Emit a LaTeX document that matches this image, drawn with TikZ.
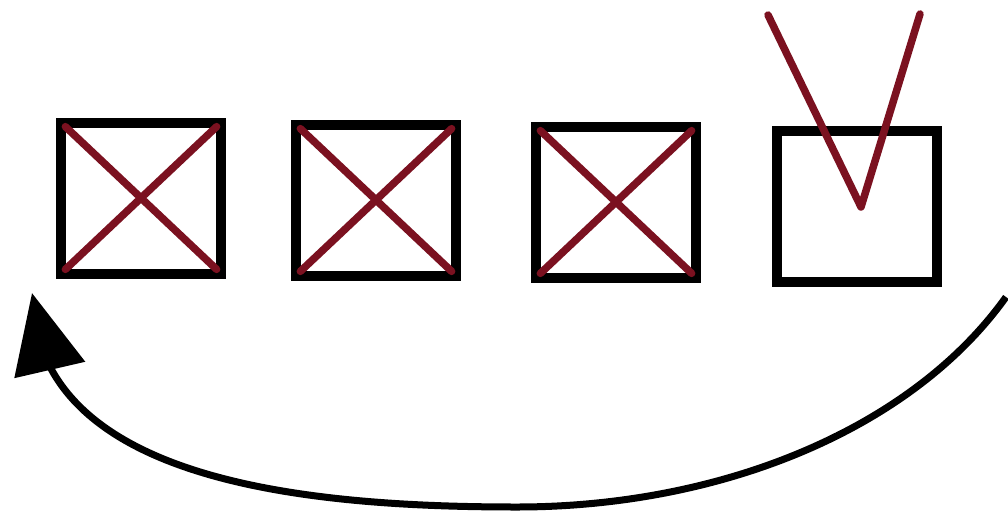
\documentclass[tikz,border=0pt]{standalone}
\usetikzlibrary{arrows.meta, bending, positioning}
\definecolor{crossred}{HTML}{7B1120}

\begin{document}
\begin{tikzpicture}[x=1pt, y=-1pt, >={Triangle[length=79pt, width=71pt]}]
  \tikzset{
    cell/.style={draw, line width=10pt, minimum width=160pt, minimum height=151pt,
      inner sep=0pt, outer sep=0pt},
    redline/.style={crossred, line width=7.5pt, line cap=round, line join=round},
  }
  \useasboundingbox (0,0) rectangle (1008,514);

  % Felder
  \node[cell] (c1) at (141,198) {};
  \node[cell] (c2) at (376,200) {};
  \node[cell] (c3) at (616,202) {};
  \node[cell] (c4) at (857,206) {};

  % Kreuze
  \foreach \c in {c1,c2,c3} {
    \draw[redline, shorten <=6pt, shorten >=6pt] (\c.north west) -- (\c.south east);
    \draw[redline, shorten <=6pt, shorten >=6pt] (\c.south west) -- (\c.north east);
  }

  % Haken
  \coordinate (vl) at (768,15);
  \coordinate (vr) at (920,14);
  \draw[redline] (vl) -- ([shift={(4,1)}]c4.center) -- (vr);

  % Pfeil zurueck
  \coordinate (start) at (1006,297);
  \coordinate (bottom) at (517,507);
  \coordinate (tip) at (32,293);
  \draw[->, line width=7pt] (start) .. controls (911,430) and (720,507) .. (bottom)
    .. controls (300,507) and (35,480) .. (tip);
\end{tikzpicture}
\end{document}
